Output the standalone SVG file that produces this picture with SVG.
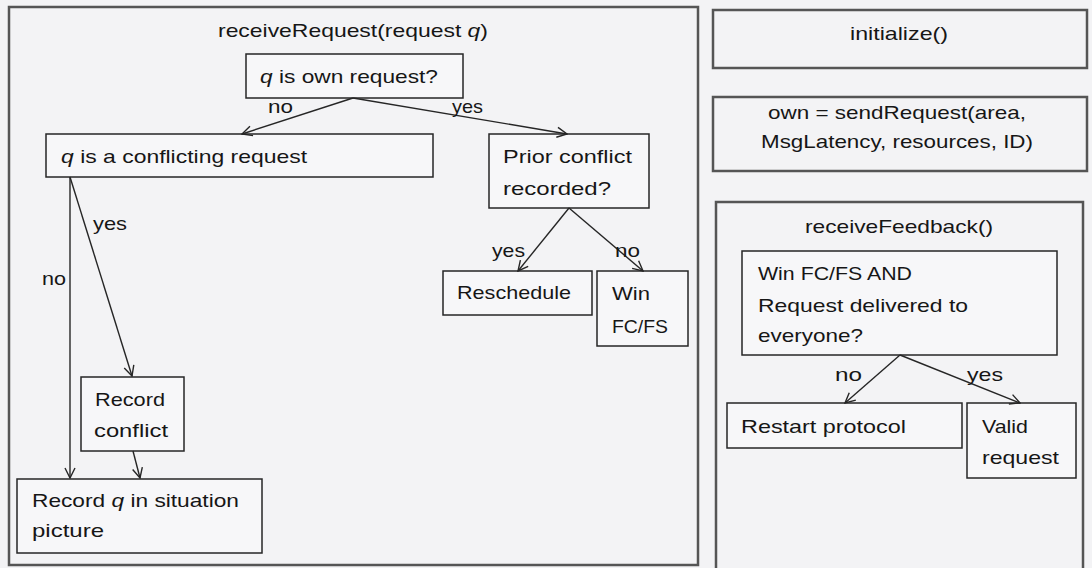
<svg xmlns="http://www.w3.org/2000/svg" width="1092" height="568" viewBox="0 0 1092 568">
  <style>
    .frame { fill: none; stroke: #555555; stroke-width: 2.5; }
    .box { fill: #f7f7f9; stroke: #262626; stroke-width: 1.5; }
    .t { font-family: "Liberation Sans", Arial, sans-serif; font-size: 19px; fill: #161616; }
    .lbl { font-family: "Liberation Sans", Arial, sans-serif; font-size: 19px; fill: #161616; }
    .it { font-style: italic; }
    .edge { fill: none; stroke: #262626; stroke-width: 1.4; marker-end: url(#arrow); }
  </style>
  <defs>
    <marker id="arrow" viewBox="0 0 12 12" refX="11" refY="6" markerWidth="12" markerHeight="12" markerUnits="userSpaceOnUse" orient="auto">
      <path d="M1,1 L11,6 L1,11" fill="none" stroke="#262626" stroke-width="1.4"/>
    </marker>
  </defs>

  <!-- page background -->
  <rect x="0" y="0" width="1092" height="568" fill="#f3f3f5"/>

  <!-- receiveRequest frame -->
  <g id="receiveRequest">
    <rect class="frame" x="9" y="7" width="689" height="558"/>
    <text class="t" x="218" y="37" textLength="270" lengthAdjust="spacingAndGlyphs">receiveRequest(request <tspan class="it">q</tspan>)</text>
  </g>

  <g id="ownRequest">
    <rect class="box" x="246" y="54" width="217" height="44"/>
    <text class="t" x="260" y="83" textLength="178" lengthAdjust="spacingAndGlyphs"><tspan class="it">q</tspan> is own request?</text>
  </g>

  <g id="conflicting">
    <rect class="box" x="46" y="134" width="387" height="43"/>
    <text class="t" x="61" y="163" textLength="246" lengthAdjust="spacingAndGlyphs"><tspan class="it">q</tspan> is a conflicting request</text>
  </g>

  <g id="priorConflict">
    <rect class="box" x="489" y="134" width="160" height="74"/>
    <text class="t" x="503" y="163" textLength="129" lengthAdjust="spacingAndGlyphs">Prior conflict</text>
    <text class="t" x="503" y="195" textLength="108" lengthAdjust="spacingAndGlyphs">recorded?</text>
  </g>

  <g id="reschedule">
    <rect class="box" x="443" y="271" width="149" height="44"/>
    <text class="t" x="457" y="299" textLength="114" lengthAdjust="spacingAndGlyphs">Reschedule</text>
  </g>

  <g id="winFCFS">
    <rect class="box" x="597" y="271" width="91" height="75"/>
    <text class="t" x="612" y="300" textLength="38" lengthAdjust="spacingAndGlyphs">Win</text>
    <text class="t" x="612" y="333" textLength="56" lengthAdjust="spacingAndGlyphs">FC/FS</text>
  </g>

  <g id="recordConflict">
    <rect class="box" x="81" y="377" width="103" height="74"/>
    <text class="t" x="95" y="406" textLength="70" lengthAdjust="spacingAndGlyphs">Record</text>
    <text class="t" x="94" y="437" textLength="74" lengthAdjust="spacingAndGlyphs">conflict</text>
  </g>

  <g id="recordSituation">
    <rect class="box" x="17" y="479" width="245" height="74"/>
    <text class="t" x="32" y="507" textLength="207" lengthAdjust="spacingAndGlyphs">Record <tspan class="it">q</tspan> in situation</text>
    <text class="t" x="32" y="537" textLength="72" lengthAdjust="spacingAndGlyphs">picture</text>
  </g>

  <!-- right column -->
  <g id="initialize">
    <rect class="frame" x="713" y="10" width="374" height="58"/>
    <text class="t" x="850" y="40" textLength="98" lengthAdjust="spacingAndGlyphs">initialize()</text>
  </g>

  <g id="sendRequest">
    <rect class="frame" x="713" y="97" width="374" height="74"/>
    <text class="t" x="768" y="119" textLength="258" lengthAdjust="spacingAndGlyphs">own = sendRequest(area,</text>
    <text class="t" x="761" y="148" textLength="272" lengthAdjust="spacingAndGlyphs">MsgLatency, resources, ID)</text>
  </g>

  <g id="receiveFeedback">
    <rect class="frame" x="716" y="202" width="367" height="368"/>
    <text class="t" x="805" y="233" textLength="188" lengthAdjust="spacingAndGlyphs">receiveFeedback()</text>
  </g>

  <g id="winAndDelivered">
    <rect class="box" x="742" y="251" width="315" height="104"/>
    <text class="t" x="758" y="280" textLength="154" lengthAdjust="spacingAndGlyphs">Win FC/FS AND</text>
    <text class="t" x="758" y="312" textLength="210" lengthAdjust="spacingAndGlyphs">Request delivered to</text>
    <text class="t" x="758" y="342" textLength="105" lengthAdjust="spacingAndGlyphs">everyone?</text>
  </g>

  <g id="restartProtocol">
    <rect class="box" x="727" y="403" width="235" height="45"/>
    <text class="t" x="741" y="433" textLength="165" lengthAdjust="spacingAndGlyphs">Restart protocol</text>
  </g>

  <g id="validRequest">
    <rect class="box" x="967" y="403" width="109" height="75"/>
    <text class="t" x="982" y="433" textLength="46" lengthAdjust="spacingAndGlyphs">Valid</text>
    <text class="t" x="982" y="464" textLength="77" lengthAdjust="spacingAndGlyphs">request</text>
  </g>

  <!-- connectors and their labels -->
  <g id="connectors">
    <line class="edge" x1="353" y1="98" x2="242" y2="134"/>
    <line class="edge" x1="353" y1="98" x2="567" y2="134"/>
    <line class="edge" x1="70" y1="177" x2="132" y2="376"/>
    <line class="edge" x1="70" y1="177" x2="70" y2="478"/>
    <line class="edge" x1="133" y1="451" x2="140" y2="478"/>
    <line class="edge" x1="569" y1="208" x2="518" y2="271"/>
    <line class="edge" x1="569" y1="208" x2="643" y2="271"/>
    <line class="edge" x1="900" y1="355" x2="845" y2="403"/>
    <line class="edge" x1="900" y1="355" x2="1020" y2="403"/>

    <text class="lbl" x="268" y="113" textLength="25" lengthAdjust="spacingAndGlyphs">no</text>
    <text class="lbl" x="452" y="113" textLength="31" lengthAdjust="spacingAndGlyphs">yes</text>
    <text class="lbl" x="93" y="230" textLength="34" lengthAdjust="spacingAndGlyphs">yes</text>
    <text class="lbl" x="42" y="285" textLength="24" lengthAdjust="spacingAndGlyphs">no</text>
    <text class="lbl" x="492" y="257" textLength="33" lengthAdjust="spacingAndGlyphs">yes</text>
    <text class="lbl" x="615" y="257" textLength="25" lengthAdjust="spacingAndGlyphs">no</text>
    <text class="lbl" x="835" y="381" textLength="27" lengthAdjust="spacingAndGlyphs">no</text>
    <text class="lbl" x="967" y="381" textLength="36" lengthAdjust="spacingAndGlyphs">yes</text>
  </g>
</svg>
